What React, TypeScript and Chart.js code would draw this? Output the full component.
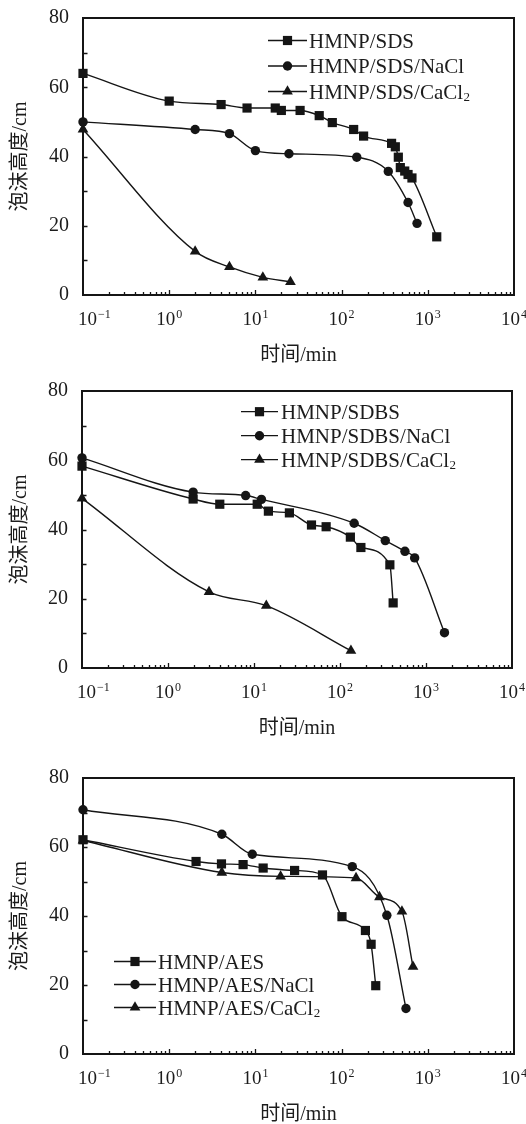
import React, { useEffect, useRef } from 'react';
import { Chart, registerables } from 'chart.js';

Chart.register(...registerables);

// ---------- Data ----------
// Panel 1: SDS
const sdsTime = [0.1, 1, 4, 8, 17, 20, 33, 55, 78, 138, 180, 380, 420, 455, 480, 540, 590, 655, 1270];
const sdsHeight = [64, 56, 55, 54, 54, 53.3, 53.3, 51.8, 49.8, 47.8, 45.9, 43.8, 42.8, 39.8, 36.8, 35.8, 34.8, 33.8, 16.8];
const sdsNaclTime = [0.1, 2, 5, 10, 24.5, 150, 348, 590, 750];
const sdsNaclHeight = [50, 47.8, 46.6, 41.7, 40.8, 39.8, 35.7, 26.7, 20.7];
const sdsCacl2Time = [0.1, 2, 5, 12.2, 25.5];
const sdsCacl2Height = [47.8, 12.6, 8.1, 5.1, 3.8];

// Panel 2: SDBS
const sdbsTime = [0.1, 1.96, 4, 10.9, 14.7, 25.8, 46.6, 69, 132, 175, 380, 415];
const sdbsHeight = [58.3, 48.8, 47.3, 47.3, 45.3, 44.8, 41.3, 40.8, 37.8, 34.8, 29.8, 18.8];
const sdbsNaclTime = [0.1, 1.96, 8, 12.2, 146, 336, 569, 738, 1640];
const sdbsNaclHeight = [60.7, 50.8, 49.8, 48.7, 41.8, 36.8, 33.7, 31.8, 10.2];
const sdbsCacl2Time = [0.1, 3.0, 13.9, 134];
const sdbsCacl2Height = [49, 22, 18, 5];

// Panel 3: AES
const aesTime = [0.1, 2.05, 4.04, 7.2, 12.3, 28.5, 60, 101, 189, 220, 249];
const aesHeight = [62.1, 55.8, 55.1, 54.9, 53.9, 53.2, 51.9, 39.8, 35.8, 31.8, 19.8];
const aesNaclTime = [0.1, 4.08, 9.2, 133, 335, 558];
const aesNaclHeight = [70.8, 63.7, 57.9, 54.3, 40.2, 13.2];
const aesCacl2Time = [0.1, 4.08, 19.6, 147, 275, 501, 674];
const aesCacl2Height = [61.9, 52.6, 51.5, 51, 45.5, 41.3, 25.3];

// Axes
const xTickExponents = [-1, 0, 1, 2, 3, 4];
const yTickValues = [0, 20, 40, 60, 80];
const xTitle = '时间/min';
const yTitle = '泡沫高度/cm';

// ---------- Styles ----------
const INK = '#151515';
const TEXT = '#1c1c1c';
const SERIF = "'Liberation Serif', 'Times New Roman', serif";
const TITLE_FONT = "'Liberation Serif', 'Noto Sans CJK SC', serif";

type Marker = 'rect' | 'circle' | 'triangle';
type Series = { label: string; time: number[]; height: number[]; marker: Marker };
type Panel = {
  top: number;
  height: number;
  left: number;
  padRight: number;
  padTop: number;
  series: Series[];
  legend: { x0: number; x1: number; textX: number; y0: number; dy: number };
};

const panels: Panel[] = [
  {
    top: 0, height: 370, left: 83, padRight: 12, padTop: 18,
    series: [
      { label: 'HMNP/SDS', time: sdsTime, height: sdsHeight, marker: 'rect' },
      { label: 'HMNP/SDS/NaCl', time: sdsNaclTime, height: sdsNaclHeight, marker: 'circle' },
      { label: 'HMNP/SDS/CaCl₂', time: sdsCacl2Time, height: sdsCacl2Height, marker: 'triangle' },
    ],
    legend: { x0: 268, x1: 307, textX: 309, y0: 40.5, dy: 25.5 },
  },
  {
    top: 373, height: 370, left: 82, padRight: 14, padTop: 18,
    series: [
      { label: 'HMNP/SDBS', time: sdbsTime, height: sdbsHeight, marker: 'rect' },
      { label: 'HMNP/SDBS/NaCl', time: sdbsNaclTime, height: sdbsNaclHeight, marker: 'circle' },
      { label: 'HMNP/SDBS/CaCl₂', time: sdbsCacl2Time, height: sdbsCacl2Height, marker: 'triangle' },
    ],
    legend: { x0: 241, x1: 278, textX: 281, y0: 38.7, dy: 24 },
  },
  {
    top: 760, height: 369, left: 83, padRight: 12, padTop: 18,
    series: [
      { label: 'HMNP/AES', time: aesTime, height: aesHeight, marker: 'rect' },
      { label: 'HMNP/AES/NaCl', time: aesNaclTime, height: aesNaclHeight, marker: 'circle' },
      { label: 'HMNP/AES/CaCl₂', time: aesCacl2Time, height: aesCacl2Height, marker: 'triangle' },
    ],
    legend: { x0: 114, x1: 156, textX: 158, y0: 201.5, dy: 23 },
  },
];

const markerRadius: Record<Marker, number> = { rect: 6.5, circle: 4.7, triangle: 6.2 };

function drawMarker(ctx: CanvasRenderingContext2D, type: Marker, x: number, y: number) {
  ctx.beginPath();
  if (type === 'rect') {
    const s = markerRadius.rect * Math.SQRT2;
    ctx.rect(x - s / 2, y - s / 2, s, s);
  } else if (type === 'circle') {
    ctx.arc(x, y, markerRadius.circle, 0, Math.PI * 2);
  } else {
    const r = markerRadius.triangle;
    for (let k = 0; k < 3; k++) {
      const a = (k * 2 * Math.PI) / 3;
      const px = x + Math.sin(a) * r;
      const py = y - Math.cos(a) * r;
      if (k === 0) ctx.moveTo(px, py);
      else ctx.lineTo(px, py);
    }
    ctx.closePath();
  }
  ctx.fill();
}

const SUB: Record<string, string> = { '₂': '2' };

function drawRichText(ctx: CanvasRenderingContext2D, text: string, x: number, y: number, size: number) {
  let cx = x;
  let buf = '';
  const flush = () => {
    if (!buf) return;
    ctx.font = `${size}px ${SERIF}`;
    ctx.fillText(buf, cx, y);
    cx += ctx.measureText(buf).width;
    buf = '';
  };
  for (const ch of text) {
    if (SUB[ch]) {
      flush();
      ctx.font = `${Math.round(size * 0.6)}px ${SERIF}`;
      ctx.fillText(SUB[ch], cx + 0.5, y + size * 0.12);
      cx += ctx.measureText(SUB[ch]).width + 0.5;
    } else buf += ch;
  }
  flush();
}

function makePlugin(panel: Panel) {
  return {
    id: 'decor',
    beforeDatasetsDraw(chart: any) {
      const { ctx, chartArea: a, scales } = chart;
      const x = scales.x;
      const y = scales.y;
      ctx.save();
      ctx.strokeStyle = INK;
      ctx.lineWidth = 2;
      ctx.strokeRect(a.left, a.top, a.right - a.left, a.bottom - a.top);
      ctx.lineWidth = 1.3;
      ctx.beginPath();
      for (let v = 10; v < 80; v += 10) {
        const py = Math.round(y.getPixelForValue(v)) + 0.5;
        ctx.moveTo(a.left, py);
        ctx.lineTo(a.left + 4.5, py);
      }
      for (let e = -1; e < 4; e++) {
        for (let m = 1; m <= 9; m++) {
          const v = m * Math.pow(10, e);
          if (v <= 0.1 + 1e-9) continue;
          const px = Math.round(x.getPixelForValue(v)) + 0.5;
          const len = m === 1 ? 5 : 3;
          ctx.moveTo(px, a.bottom);
          ctx.lineTo(px, a.bottom - len);
        }
      }
      ctx.stroke();
      ctx.restore();
    },
    afterDraw(chart: any) {
      const { ctx, chartArea: a, scales } = chart;
      const x = scales.x;
      ctx.save();
      ctx.fillStyle = TEXT;
      ctx.textBaseline = 'alphabetic';
      ctx.textAlign = 'left';
      // x tick labels 10^n
      const baseSize = 19;
      const expSize = 12;
      const baseline = a.bottom + 30;
      for (const e of xTickExponents) {
        const px = x.getPixelForValue(Math.pow(10, e));
        const base = '10';
        const exp = e < 0 ? '−' + Math.abs(e) : String(e);
        ctx.font = `${baseSize}px ${SERIF}`;
        const wb = ctx.measureText(base).width;
        ctx.font = `${expSize}px ${SERIF}`;
        const we = ctx.measureText(exp).width;
        const total = wb + 1 + we;
        const sx = e === xTickExponents[0] ? px - 5 : px - total / 2;
        ctx.font = `${baseSize}px ${SERIF}`;
        ctx.fillText(base, sx, baseline);
        ctx.font = `${expSize}px ${SERIF}`;
        ctx.fillText(exp, sx + wb + 1, baseline - 7.5);
      }
      // legend
      const L = panel.legend;
      ctx.strokeStyle = INK;
      ctx.fillStyle = INK;
      ctx.lineWidth = 1.3;
      panel.series.forEach((s, i) => {
        const cy = L.y0 + i * L.dy;
        ctx.beginPath();
        ctx.moveTo(L.x0, cy);
        ctx.lineTo(L.x1, cy);
        ctx.stroke();
        drawMarker(ctx, s.marker, (L.x0 + L.x1) / 2, cy);
        ctx.fillStyle = TEXT;
        drawRichText(ctx, s.label, L.textX, cy + 7, 21);
        ctx.fillStyle = INK;
      });
      ctx.restore();
    },
  };
}

function PanelChart({ panel }: { panel: Panel }) {
  const ref = useRef<HTMLCanvasElement | null>(null);
  useEffect(() => {
    if (!ref.current) return;
    const chart = new Chart(ref.current, {
      type: 'line',
      data: {
        datasets: panel.series.map((s) => ({
          label: s.label,
          data: s.time.map((t, i) => ({ x: t, y: s.height[i] })),
          borderColor: INK,
          backgroundColor: INK,
          borderWidth: 1.4,
          pointStyle: s.marker,
          pointRadius: markerRadius[s.marker],
          pointBackgroundColor: INK,
          pointBorderColor: INK,
          pointBorderWidth: 0,
          cubicInterpolationMode: 'monotone' as const,
          fill: false,
          clip: false as any,
        })),
      },
      options: {
        animation: false,
        responsive: false,
        maintainAspectRatio: false,
        layout: { padding: { top: panel.padTop, right: panel.padRight, bottom: 0, left: 0 } },
        plugins: { legend: { display: false }, tooltip: { enabled: false } },
        scales: {
          x: {
            type: 'logarithmic',
            min: 0.1,
            max: 10000,
            grid: { display: false },
            border: { display: false },
            ticks: { display: false },
            title: {
              display: true,
              text: xTitle,
              color: TEXT,
              font: { family: TITLE_FONT, size: 20 },
              padding: { top: 0, bottom: 2 },
            },
            afterFit: (sc: any) => {
              sc.height = 75;
            },
          },
          y: {
            type: 'linear',
            min: 0,
            max: 80,
            grid: { display: false },
            border: { display: false },
            afterBuildTicks: (sc: any) => {
              sc.ticks = yTickValues.map((v) => ({ value: v }));
            },
            ticks: {
              color: TEXT,
              padding: 6,
              font: { family: SERIF, size: 20 },
            },
            title: {
              display: true,
              text: yTitle,
              color: TEXT,
              font: { family: TITLE_FONT, size: 20 },
              padding: { top: 9, bottom: 0 },
            },
            afterFit: (sc: any) => {
              sc.width = panel.left;
            },
          },
        },
      },
      plugins: [makePlugin(panel)],
    } as any);
    return () => chart.destroy();
  }, [panel]);
  return (
    <canvas
      ref={ref}
      width={526}
      height={panel.height}
      style={{ position: 'absolute', left: 0, top: panel.top, width: 526, height: panel.height }}
    />
  );
}

export default function App() {
  return (
    <div
      style={{
        position: 'fixed',
        left: 0,
        top: 0,
        width: 526,
        height: 1124,
        overflow: 'hidden',
        background: '#fff',
      }}
    >
      {panels.map((p, i) => (
        <PanelChart key={i} panel={p} />
      ))}
    </div>
  );
}
